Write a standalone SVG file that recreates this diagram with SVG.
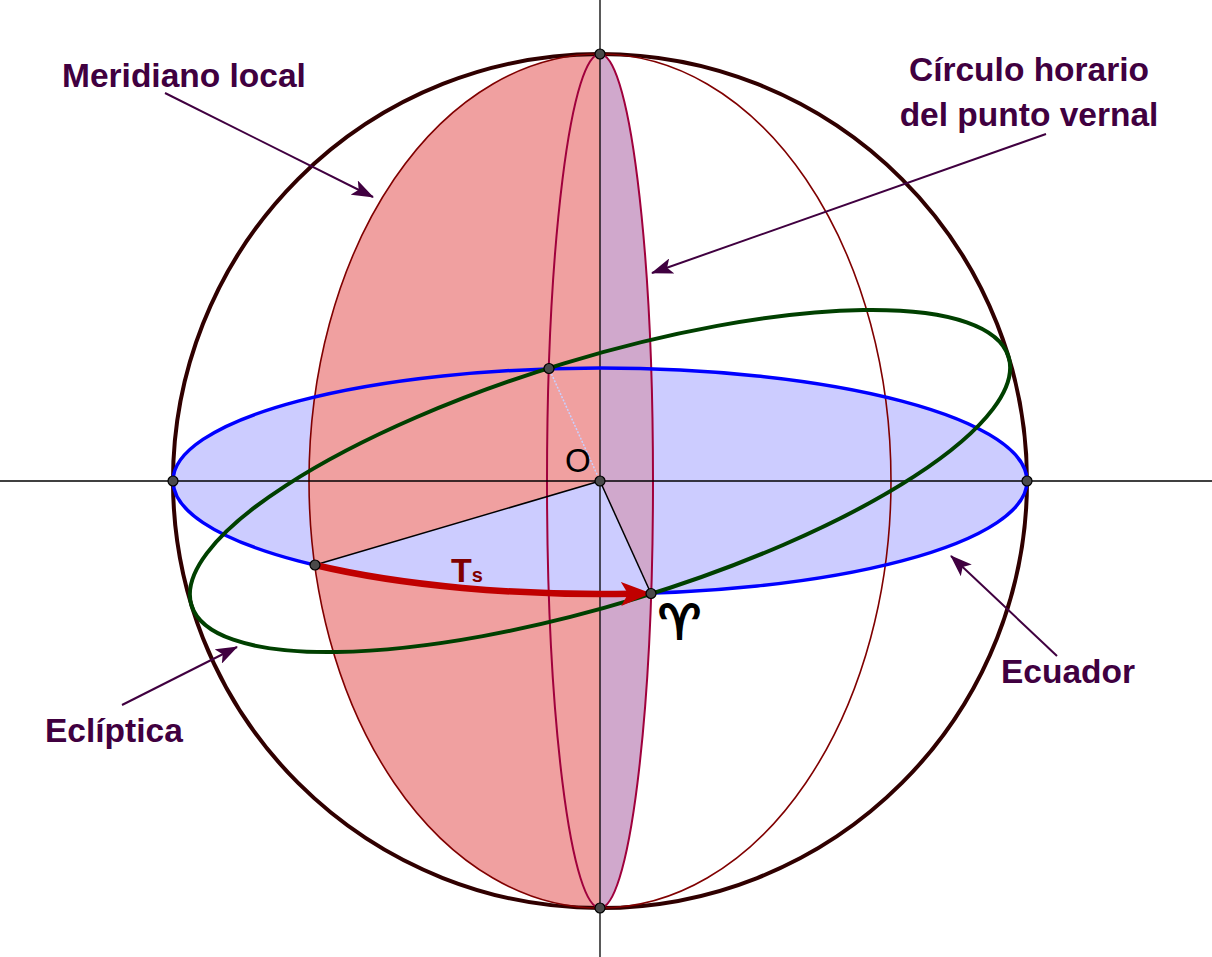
<svg xmlns="http://www.w3.org/2000/svg" width="1212" height="957" viewBox="0 0 1212 957">
<defs>
<style>
.lbl{font-family:"Liberation Sans",Arial,sans-serif;font-weight:bold;font-size:33.5px;fill:#400040}
.ann{stroke:#400040;stroke-width:2;fill:none;marker-end:url(#ah)}
.pt{fill:#4a4a4a;stroke:#000;stroke-width:1.2}
.axis{stroke:#000;stroke-width:1.3;fill:none}
</style>
<marker id="ah" markerUnits="userSpaceOnUse" viewBox="0 0 22 16" markerWidth="22" markerHeight="16" refX="21" refY="8" orient="auto">
<path d="M0,0 L22,8 L0,16 L5,8 Z" fill="#400040"/>
</marker>
<marker id="rh" markerUnits="userSpaceOnUse" viewBox="0 0 30 24" markerWidth="30" markerHeight="24" refX="11" refY="12" orient="auto">
<path d="M0,0 L30,12 L0,24 L7,12 Z" fill="#c00000"/>
</marker>
</defs>
<rect width="1212" height="957" fill="#fff"/>

<g id="fills">
<ellipse cx="600" cy="481" rx="427" ry="113" fill="#ccccff"/>
<path d="M600,54 A291,427 0 0 0 600,908 Z" fill="#f0a0a0"/>
<path d="M600,54 A53,427 0 0 1 600,908 Z" fill="#d0a8cc"/>
<path d="M315,565 L600,481 L651,593.5 A427,113 0 0 1 315,565 Z" fill="#ccccff"/>
</g>

<g id="esfera">
<circle cx="600" cy="481" r="427" fill="none" stroke="#300000" stroke-width="4"/>
</g>
<g id="meridiano-local">
<ellipse cx="600" cy="481" rx="291" ry="427" fill="none" stroke="#800000" stroke-width="1.6"/>
</g>
<g id="circulo-horario">
<ellipse cx="600" cy="481" rx="53" ry="427" fill="none" stroke="#a0003c" stroke-width="2"/>
</g>

<g id="ejes">
<line class="axis" x1="600" y1="0" x2="600" y2="957"/>
<line class="axis" x1="0" y1="481" x2="1212" y2="481"/>
</g>

<g id="ecuador">
<ellipse cx="600" cy="481" rx="427" ry="113" fill="none" stroke="#0000ff" stroke-width="3.5"/>
</g>
<g id="ecliptica">
<ellipse cx="600" cy="481" rx="427" ry="123" fill="none" stroke="#004000" stroke-width="4" transform="rotate(-16.9 600 481)"/>
</g>

<g id="connectors">
<line x1="600" y1="481" x2="549" y2="368.5" stroke="#c8d0ff" stroke-width="1.5" stroke-dasharray="2,1.5"/>
<line x1="600" y1="481" x2="315" y2="565" stroke="#000" stroke-width="1.5"/>
<line x1="600" y1="481" x2="651" y2="593.5" stroke="#000" stroke-width="1.5"/>
<path d="M315,565 A427,113 0 0 0 632,593.7" fill="none" stroke="#c00000" stroke-width="6.5" marker-end="url(#rh)"/>
<line class="ann" x1="165" y1="93" x2="373" y2="197"/>
<line class="ann" x1="1046" y1="134" x2="652" y2="273"/>
<line class="ann" x1="122" y1="705" x2="237" y2="647"/>
<line class="ann" x1="1057" y1="656" x2="951" y2="556"/>
</g>

<g id="puntos">
<circle class="pt" cx="600" cy="54" r="5"/>
<circle class="pt" cx="600" cy="908" r="5"/>
<circle class="pt" cx="173" cy="481" r="5"/>
<circle class="pt" cx="1027" cy="481" r="5"/>
<circle class="pt" cx="600" cy="481" r="5"/>
<circle class="pt" cx="549" cy="368.5" r="5"/>
<circle class="pt" cx="315" cy="565" r="5"/>
<circle class="pt" cx="651" cy="593.5" r="5"/>
</g>

<g id="etiquetas">
<text x="565" y="472" font-family="Liberation Sans, Arial, sans-serif" font-size="33" fill="#000">O</text>
<text x="451" y="582" font-family="Liberation Sans, Arial, sans-serif" font-weight="bold" font-size="34" fill="#800000">T<tspan font-size="20">s</tspan></text>
<text x="658" y="639" font-family="DejaVu Sans, sans-serif" font-size="48" fill="#000" stroke="#000" stroke-width="2">♈︎</text>
<text class="lbl" x="62" y="87">Meridiano local</text>
<text class="lbl" x="1029" y="81" text-anchor="middle">Círculo horario</text>
<text class="lbl" x="1029" y="126" text-anchor="middle">del punto vernal</text>
<text class="lbl" x="45" y="742">Eclíptica</text>
<text class="lbl" x="1001" y="683">Ecuador</text>
</g>
</svg>
